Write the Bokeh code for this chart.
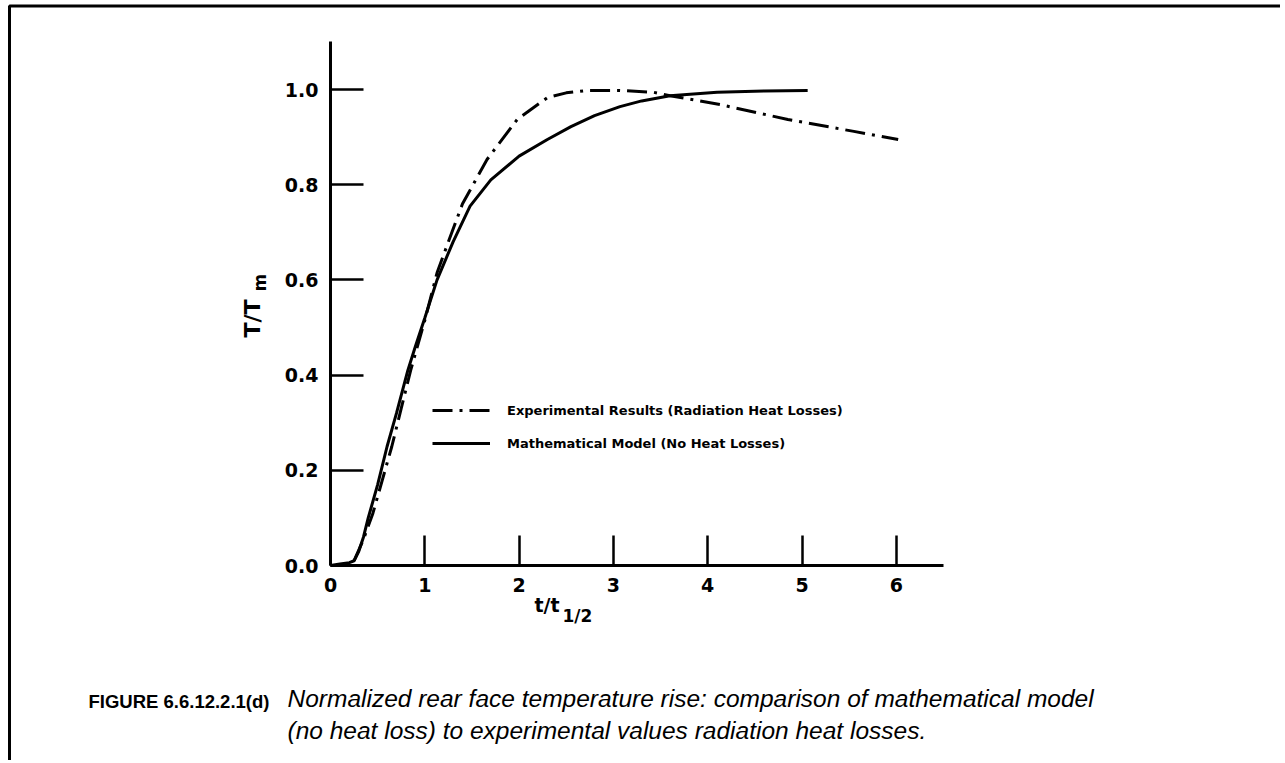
from bokeh.plotting import figure
from bokeh.models import Range1d, FixedTicker, Label, Legend, LegendItem, BoxAnnotation
from bokeh.embed import file_html
from bokeh.resources import INLINE
import math

# ---- data ----
t_model = [0.0, 0.1, 0.2, 0.25, 0.3, 0.35, 0.4, 0.5, 0.6, 0.7, 0.82, 0.9, 1.0, 1.13,
           1.3, 1.48, 1.7, 2.0, 2.3, 2.55, 2.8, 3.07, 3.3, 3.6, 4.1, 4.6, 5.06]
T_model = [0.0, 0.003, 0.006, 0.01, 0.03, 0.06, 0.1, 0.17, 0.25, 0.32, 0.41, 0.46, 0.52, 0.6,
           0.68, 0.755, 0.81, 0.86, 0.895, 0.922, 0.945, 0.964, 0.976, 0.987, 0.994, 0.997, 0.998]

t_exp = [0.25, 0.35, 0.45, 0.55, 0.65, 0.75, 0.85, 1.0, 1.13, 1.25, 1.4, 1.66, 1.98, 2.3,
         2.5, 2.72, 3.07, 3.43, 3.6, 4.14, 4.85, 5.55, 6.02]
T_exp = [0.01, 0.055, 0.11, 0.18, 0.25, 0.33, 0.41, 0.515, 0.615, 0.68, 0.76, 0.853, 0.937, 0.983,
         0.993, 0.998, 0.998, 0.994, 0.987, 0.968, 0.937, 0.912, 0.895]

x_ticks = [0, 1, 2, 3, 4, 5, 6]
x_tick_labels = ["0", "1", "2", "3", "4", "5", "6"]
y_ticks = [0.0, 0.2, 0.4, 0.6, 0.8, 1.0]
y_tick_labels = ["0.0", "0.2", "0.4", "0.6", "0.8", "1.0"]

legend_labels = ["Experimental Results (Radiation Heat Losses)",
                 "Mathematical Model (No Heat Losses)"]
x_label_main, x_label_sub = "t/t", "1/2"
y_label_main, y_label_sub = "T/T", "m"
caption_head = "FIGURE 6.6.12.2.1(d)"
caption_lines = ["Normalized rear face temperature rise:  comparison of mathematical model",
                 "(no heat loss) to experimental values radiation heat losses."]

LETTER = "DejaVu Sans"
CAP = "Liberation Sans"

# page geometry (px): data origin and scale
W, H = 1280, 760
X0, XS = 330.0, 94.3      # page x of t=0, px per unit
Y0, YS = 565.0, 476.0     # page y of T=0, px per unit


def dx(px):
    return (px - X0) / XS


def dy(py):
    return (Y0 - py) / YS


p = figure(width=W, height=H, output_backend="svg", toolbar_location=None,
           x_range=Range1d(dx(0), dx(W)), y_range=Range1d(dy(H), dy(0)),
           min_border=0)
p.title.visible = False
p.outline_line_color = None
p.grid.visible = False
p.background_fill_color = "white"
p.border_fill_color = "white"

for ax in (p.xaxis[0], p.yaxis[0]):
    ax.fixed_location = 0
    ax.axis_line_width = 3
    ax.axis_line_color = "black"
    ax.major_tick_line_width = 2.5
    ax.major_tick_line_color = "black"
    ax.major_tick_out = 0
    ax.minor_tick_line_color = None
    ax.major_label_text_font = LETTER
    ax.major_label_text_font_style = "bold"
    ax.major_label_text_color = "black"
    ax.major_label_text_font_size = "19px"

p.xaxis[0].bounds = (0, 6.5)
p.xaxis[0].ticker = FixedTicker(ticks=x_ticks)
p.xaxis[0].major_label_overrides = dict(zip(x_ticks, x_tick_labels))
p.xaxis[0].major_tick_in = 30
p.xaxis[0].major_label_standoff = 12

p.yaxis[0].bounds = (0, 1.1)
p.yaxis[0].ticker = FixedTicker(ticks=y_ticks)
p.yaxis[0].major_label_overrides = dict(zip(y_ticks, y_tick_labels))
p.yaxis[0].major_tick_in = 33
p.yaxis[0].major_label_standoff = 12

r_exp = p.line(t_exp, T_exp, line_color="black", line_width=3, line_dash="20 7 3 7")
r_mod = p.line(t_model, T_model, line_color="black", line_width=3)

legend = Legend(items=[LegendItem(label=legend_labels[0], renderers=[r_exp]),
                       LegendItem(label=legend_labels[1], renderers=[r_mod])],
                location=(432, H - 453), glyph_width=58, glyph_height=20, label_height=20,
                label_standoff=17, spacing=13, padding=0, margin=0,
                border_line_color=None, background_fill_alpha=0,
                label_text_font=LETTER, label_text_font_style="bold",
                label_text_font_size="13px", label_text_color="black")
p.add_layout(legend)

# axis titles with subscripts
p.add_layout(Label(x=dx(559), y=dy(615), text=x_label_main, text_align="right",
                   text_color="black", text_font=LETTER, text_font_style="bold",
                   text_font_size="19px"))
p.add_layout(Label(x=dx(562), y=dy(625), text=x_label_sub, text_align="left",
                   text_color="black", text_font=LETTER, text_font_style="bold",
                   text_font_size="17px"))
p.add_layout(Label(x=dx(264), y=dy(318), text=y_label_main, angle=math.pi / 2,
                   text_align="center", text_color="black", text_font=LETTER,
                   text_font_style="bold", text_font_size="22px"))
p.add_layout(Label(x=dx(269), y=dy(291), text=y_label_sub, angle=math.pi / 2,
                   text_align="left", text_color="black", text_font=LETTER,
                   text_font_style="bold", text_font_size="17px"))

# caption
p.add_layout(Label(x=dx(88), y=dy(711), text=caption_head, text_align="left",
                   text_color="black", text_font=CAP, text_font_style="bold",
                   text_font_size="18.5px"))
for i, line in enumerate(caption_lines):
    p.add_layout(Label(x=dx(287), y=dy(711 + 32 * i), text=line, text_align="left",
                       text_color="black", text_font=CAP, text_font_style="italic",
                       text_font_size="24.5px"))

# page frame (left and top edges visible)
p.add_layout(BoxAnnotation(left=dx(9), top=dy(5.5), right=dx(W + 20), bottom=dy(H + 20),
                           fill_alpha=0, line_color="black", line_width=3, line_alpha=1))

open("out.html", "w").write(file_html(p, INLINE))
